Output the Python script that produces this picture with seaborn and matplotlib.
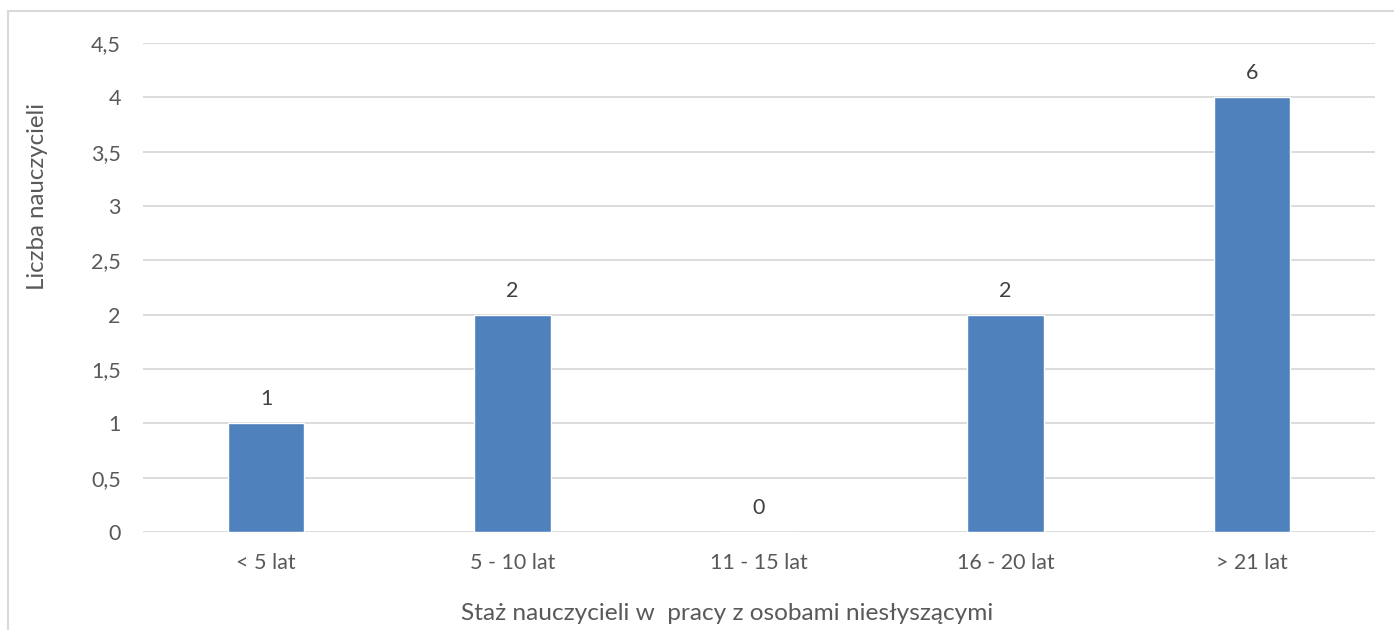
import matplotlib
matplotlib.use("Agg")
import matplotlib.pyplot as plt
from matplotlib.patches import Rectangle
from matplotlib.ticker import FuncFormatter
import seaborn as sns
import pandas as pd

# dane
kategorie = ['< 5 lat', '5 - 10 lat', '11 - 15 lat', '16 - 20 lat', '> 21 lat']
wartosci = [1, 2, 0, 2, 4]
etykiety = ['1', '2', '0', '2', '6']
y_ticks = [0, 0.5, 1, 1.5, 2, 2.5, 3, 3.5, 4, 4.5]

sns.set_style('white')
plt.rcParams['font.family'] = ['Lato', 'DejaVu Sans']
szary = '#595959'

df = pd.DataFrame({'staz': kategorie, 'liczba': wartosci})

fig = plt.figure(figsize=(13.94, 6.30), dpi=100)
ax = fig.add_axes([0.1026, 0.1556, 0.8838, 0.7761])

sns.barplot(data=df, x='staz', y='liczba', color='#4F81BD', saturation=1,
            width=0.31, ax=ax)

ax.bar_label(ax.containers[0], labels=etykiety, padding=10,
             fontsize=15.5, color='#404040')

ax.set_ylim(0, 4.5)
ax.set_yticks(y_ticks)
ax.yaxis.set_major_formatter(FuncFormatter(lambda v, p: ('%g' % v).replace('.', ',')))
ax.grid(axis='y', color='#D9D9D9', linewidth=1.3)
ax.set_axisbelow(True)
sns.despine(ax=ax, left=True, bottom=True, top=True, right=True)
ax.tick_params(axis='y', length=0, pad=16, labelsize=15.5, labelcolor=szary)
ax.tick_params(axis='x', length=0, pad=15, labelsize=15.5, labelcolor=szary)

ax.set_xlabel('')
ax.set_ylabel('Liczba nauczycieli', fontsize=17.3, color=szary, va='center')
ax.yaxis.set_label_coords(-0.086, 0.687)

fig.text(727 / 1394, 1 - 613 / 630, 'Staż nauczycieli w  pracy z osobami niesłyszącymi',
         ha='center', va='center', fontsize=17.6, color=szary)

# ramka wykresu
fig.patches.append(Rectangle((8 / 1394, -0.1), 1.2, 1 - 11 / 630 + 0.1,
                             transform=fig.transFigure, fill=False,
                             edgecolor='#D9D9D9', linewidth=1.5))

fig.savefig('out.png', dpi=100)
